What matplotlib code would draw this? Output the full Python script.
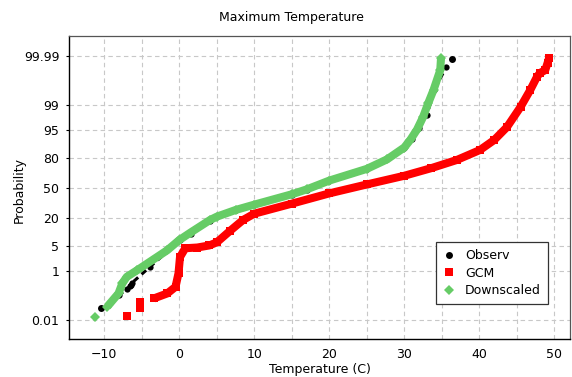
import numpy as np
import matplotlib
matplotlib.use('Agg')
import matplotlib.pyplot as plt
from matplotlib.ticker import FixedLocator, NullLocator, MultipleLocator
from statistics import NormalDist

# ---- data (temperature in C, cumulative probability in %) ----
obs_temp = [-10.5, -9.2, -8.0, -7.0, -6.6, -6.5, -6.3, -3.9, 0.1, 1.5, 4.1, 7.5, 10.0,
            15.0, 17.0, 20.0, 25.0, 27.7, 30.0, 31.0, 32.0, 33.0, 34.0, 35.6, 36.4]
obs_prob = [0.035, 0.06, 0.13, 0.22, 0.28, 0.33, 0.38, 1.33, 7.0, 10.0, 18.0, 26.5, 31.5,
            42.5, 48.0, 57.5, 70.0, 79.0, 87.0, 91.5, 95.5, 98.0, 99.7, 99.968, 99.986]

gcm_temp = [-7.0, -5.3, -5.2, -3.4, -1.6, -0.5, -0.1, 0.1, 0.8, 2.4, 4.0, 5.0, 6.8, 8.5,
            10.0, 15.0, 20.0, 25.0, 30.0, 33.5, 37.0, 40.1, 42.0, 43.7, 45.5, 46.8,
            47.7, 48.1, 48.8, 49.1, 49.3]
gcm_prob = [0.016, 0.035, 0.069, 0.094, 0.15, 0.27, 0.82, 2.6, 4.5, 4.7, 5.3, 6.3, 11.5, 18.4,
            23.5, 33.0, 44.0, 54.0, 63.5, 71.0, 78.5, 85.8, 91.2, 95.7, 98.87, 99.71,
            99.913, 99.94, 99.955, 99.978, 99.987]

ds_temp = [-11.2, -9.6, -8.1, -7.6, -7.0, -5.6, -1.6, 0.0, 1.5, 4.1, 5.0, 7.5, 10.0, 15.0,
           17.0, 20.0, 25.0, 27.7, 30.0, 30.8, 31.7, 32.5, 33.2, 33.9, 34.8, 34.9]
ds_prob = [0.0136, 0.042, 0.15, 0.36, 0.62, 1.04, 4.0, 7.15, 10.5, 18.4, 21.0, 26.8, 32.0,
           43.0, 48.5, 58.3, 70.5, 79.0, 87.3, 91.2, 95.0, 97.7, 99.16, 99.71, 99.955, 99.987]

y_ticks = [0.01, 1, 5, 20, 50, 80, 95, 99, 99.99]
y_tick_labels = ['0.01', '1', '5', '20', '50', '80', '95', '99', '99.99']
x_ticks = [-10, 0, 10, 20, 30, 40, 50]

# ---- normal probability scale ----
_nd = NormalDist()
_ppf = np.vectorize(_nd.inv_cdf, otypes=[float])
_cdf = np.vectorize(_nd.cdf, otypes=[float])


def fwd(p):
    p = np.clip(np.asarray(p, dtype=float) / 100.0, 1e-12, 1 - 1e-12)
    return _ppf(p)


def inv(z):
    return _cdf(np.asarray(z, dtype=float)) * 100.0


plt.rcParams['font.family'] = ['DejaVu Sans']
fig = plt.figure(figsize=(5.72, 3.77), dpi=100)
ax = fig.add_axes([69 / 572, 1 - 339 / 377, (570 - 69) / 572, (339 - 36) / 377])
ax.set_yscale('function', functions=(fwd, inv))

RED = '#ff0000'
GREEN = '#66cc66'

# GCM: first isolated points as markers, rest as a dense band
ax.plot(gcm_temp[:3], gcm_prob[:3], ls='none', marker='s', ms=5.5, color=RED, mew=0, zorder=3)
ax.plot(gcm_temp[3:], gcm_prob[3:], ls='-', lw=5.8, marker='s', ms=5.5, color=RED,
        mew=0, solid_capstyle='butt', solid_joinstyle='round', zorder=3)

# Observed
ax.plot(obs_temp[:1], obs_prob[:1], ls='none', marker='o', ms=5, color='black', mew=0, zorder=4)
ax.plot(obs_temp[1:-1], obs_prob[1:-1], ls='--', lw=2.2, dashes=(2, 1.5), marker='o', ms=4.5,
        color='black', mew=0, zorder=4)
ax.plot(obs_temp[-1:], obs_prob[-1:], ls='none', marker='o', ms=5, color='black', mew=0, zorder=4)

# Downscaled
ax.plot(ds_temp[:1], ds_prob[:1], ls='none', marker='D', ms=5, color=GREEN, mew=0, zorder=5)
ax.plot(ds_temp[1:], ds_prob[1:], ls='-', lw=5.8, marker='D', ms=5, color=GREEN,
        mew=0, solid_capstyle='butt', solid_joinstyle='round', zorder=5)

# legend proxies
h1, = ax.plot([], [], ls='none', marker='o', ms=5, color='black', mew=0)
h2, = ax.plot([], [], ls='none', marker='s', ms=5.5, color=RED, mew=0)
h3, = ax.plot([], [], ls='none', marker='D', ms=5, color=GREEN, mew=0)
leg = ax.legend([h1, h2, h3], ['Observ', 'GCM', 'Downscaled'], loc='lower right',
                bbox_to_anchor=((548 - 69) / 501, (339 - 304) / 303), borderaxespad=0,
                fontsize=9, frameon=True, fancybox=False, framealpha=1,
                edgecolor='#333333', handlelength=1.0, handletextpad=0.8,
                borderpad=0.55, labelspacing=0.35)
leg.get_frame().set_linewidth(0.9)
leg.set_zorder(10)

# axes limits and ticks
ax.set_xlim(-14.7, 52.1)
ax.set_ylim(inv(-4.25), inv(4.28))
ax.xaxis.set_major_locator(FixedLocator(x_ticks))
ax.xaxis.set_minor_locator(MultipleLocator(5))
ax.yaxis.set_major_locator(FixedLocator(y_ticks))
ax.yaxis.set_minor_locator(NullLocator())
ax.set_yticklabels(y_tick_labels)
ax.tick_params(axis='x', which='both', length=0, pad=6.5, labelsize=9)
ax.tick_params(axis='y', which='major', length=2.5, width=0.8, pad=4.5, labelsize=9, direction='out')

ax.grid(True, axis='x', which='both', color='#c8c8c8', ls=(0, (4, 3)), lw=0.8)
ax.grid(True, axis='y', which='major', color='#c8c8c8', ls=(0, (4, 3)), lw=0.8)
ax.set_axisbelow(True)

for side in ['left', 'bottom']:
    ax.spines[side].set_color('black')
    ax.spines[side].set_linewidth(1.0)
for side in ['top', 'right']:
    ax.spines[side].set_color('#555555')
    ax.spines[side].set_linewidth(0.9)

fig.text(291 / 572, 1 - 17 / 377, 'Maximum Temperature', ha='center', va='center', fontsize=9)
fig.text(19 / 572, 1 - 190 / 377, 'Probability', ha='center', va='center', rotation=90, fontsize=9)
fig.text(320 / 572, 1 - 370 / 377, 'Temperature (C)', ha='center', va='center', fontsize=9)

fig.savefig('out.png', dpi=100)
